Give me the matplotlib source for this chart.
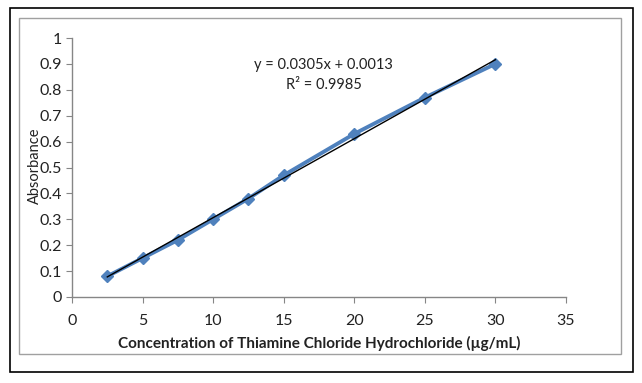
import numpy as np
import matplotlib
matplotlib.use('Agg')
import matplotlib.pyplot as plt
from matplotlib.patches import Rectangle

# data
conc = [2.5, 5, 7.5, 10, 12.5, 15, 20, 25, 30]
absorb = [0.08, 0.15, 0.22, 0.30, 0.38, 0.47, 0.63, 0.77, 0.90]
slope = 0.0305
intercept = 0.0013
r2 = 0.9985
xticks = [0, 5, 10, 15, 20, 25, 30, 35]
yticks = [0, 0.1, 0.2, 0.3, 0.4, 0.5, 0.6, 0.7, 0.8, 0.9, 1]
ytick_labels = ['0', '0.1', '0.2', '0.3', '0.4', '0.5', '0.6', '0.7', '0.8', '0.9', '1']

plt.rcParams['font.family'] = ['Lato', 'DejaVu Sans']

W, H = 642, 383
fig = plt.figure(figsize=(W / 100, H / 100), dpi=100)

# outer black frame and inner grey frame
fig.patches.append(Rectangle((10 / W, 1 - 372 / H), 623 / W, 364 / H, transform=fig.transFigure,
                             fill=False, edgecolor='black', lw=1.2))
fig.patches.append(Rectangle((19 / W, 1 - 354 / H), 602 / W, 336 / H, transform=fig.transFigure,
                             fill=False, edgecolor='#a0a0a0', lw=1.0))

ax = fig.add_axes([72 / W, 1 - 297 / H, (566 - 72) / W, (297 - 38) / H])
ax.set_xlim(0, 35)
ax.set_ylim(0, 1)

ax.plot(conc, absorb, color='#4f81bd', lw=2.8, marker='D', ms=6.5, zorder=2)
xfit = np.array([conc[0], conc[-1]])
ax.plot(xfit, slope * xfit + intercept, color='black', lw=1.0, zorder=3)

for s in ['top', 'right']:
    ax.spines[s].set_visible(False)
for s in ['left', 'bottom']:
    ax.spines[s].set_color('#868686')
    ax.spines[s].set_linewidth(1.0)

ax.set_xticks(xticks)
ax.set_yticks(yticks)
ax.set_yticklabels(ytick_labels)
ax.tick_params(axis='both', direction='out', length=4, color='#868686', labelsize=11.5,
               labelcolor='#222222')
ax.tick_params(axis='x', pad=8)

ax.set_xlabel('Concentration of Thiamine Chloride Hydrochloride (\u00b5g/mL)', fontsize=11,
              fontweight='bold', color='#222222', labelpad=6)
fig.text(35 / W, 1 - 166 / H, 'Absorbance', rotation=90, ha='center', va='center',
         fontsize=10.5, color='#222222')

ax.text(0.509, 0.895, 'y = 0.0305x + 0.0013', transform=ax.transAxes, ha='center',
        va='center', fontsize=10.5, color='#222222')
ax.text(0.509, 0.82, 'R\u00b2 = 0.9985', transform=ax.transAxes, ha='center',
        va='center', fontsize=10.5, color='#222222')

fig.savefig('out.png', dpi=100)
